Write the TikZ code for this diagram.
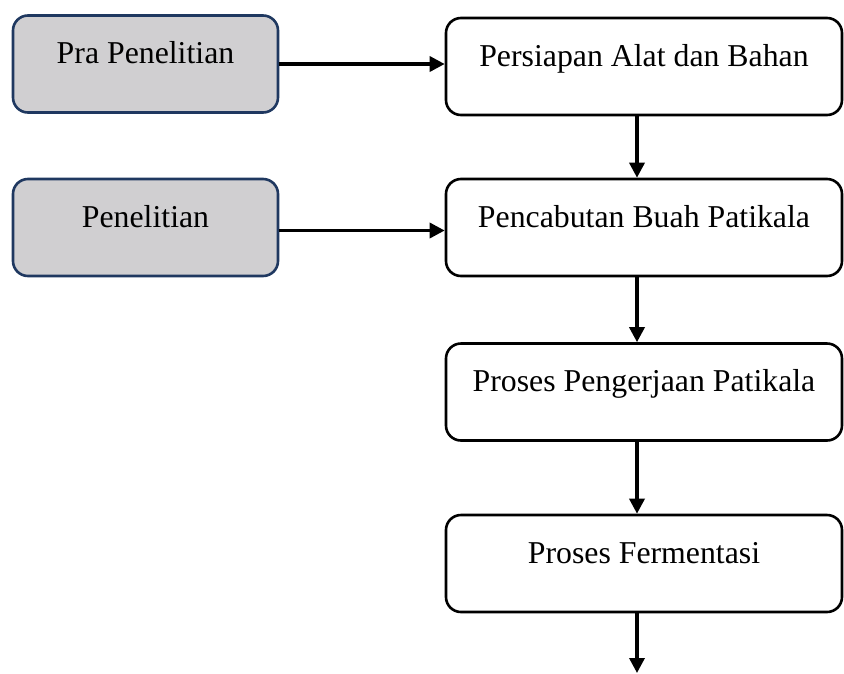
\documentclass[tikz,border=0pt]{standalone}
\usepackage{fontspec}
\setmainfont{Liberation Serif}
\usetikzlibrary{arrows.meta}
\definecolor{navy}{HTML}{1F3860}
\definecolor{boxgray}{HTML}{D0CFD1}
\begin{document}
\begin{tikzpicture}[x=1pt,y=-1pt,
  base/.style={line width=2.6pt, rounded corners=15pt, inner xsep=0pt, inner ysep=0pt,
    text height=48pt, text depth=49pt, font=\fontsize{31.8}{36}\selectfont},
  leftbox/.style={base, draw=navy, fill=boxgray, minimum width=265pt},
  rightbox/.style={base, draw=black, fill=white, minimum width=396pt},
  conn/.style={line width=3.4pt, -{Triangle[length=15pt,width=15pt]}}
]
\useasboundingbox (0,0) rectangle (844,673);
\node[leftbox] (L1) at (145.5,64) {Pra Penelitian};
\node[leftbox] (L2) at (145.5,227.5) {Penelitian};
\node[rightbox] (R1) at (644,66.5) {Persiapan Alat dan Bahan};
\node[rightbox] (R2) at (644,227.5) {Pencabutan Buah Patikala};
\node[rightbox] (R3) at (644,392) {Proses Pengerjaan Patikala};
\node[rightbox] (R4) at (644,563.5) {Proses Fermentasi};
\coordinate (end) at (637,673);
\draw[conn] (L1.east) -- (L1.east -| R1.west);
\draw[conn] ([yshift=-3pt]L2.east) -- ([yshift=-3pt]L2.east -| R2.west);
\draw[conn] ([xshift=-7pt]R1.south) -- ([xshift=-7pt]R2.north);
\draw[conn] ([xshift=-7pt]R2.south) -- ([xshift=-7pt]R3.north);
\draw[conn] ([xshift=-7pt]R3.south) -- ([xshift=-7pt]R4.north);
\draw[conn] ([xshift=-7pt]R4.south) -- (end);
\end{tikzpicture}
\end{document}
